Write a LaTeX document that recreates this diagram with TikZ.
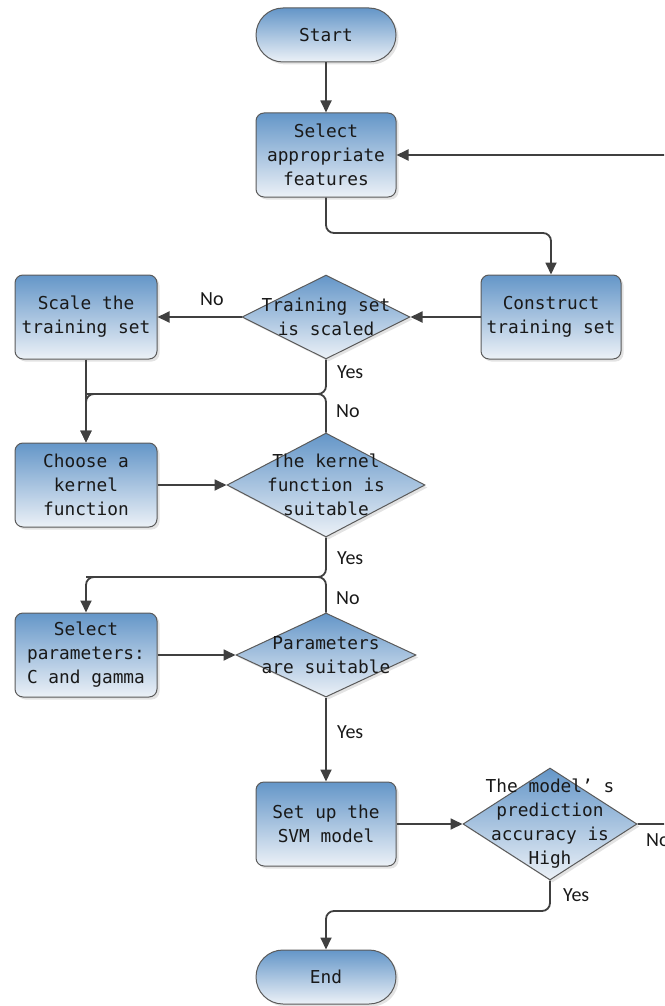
\documentclass[tikz,border=0pt]{standalone}
\usepackage{fontspec}
\setmonofont{DejaVu Sans Mono}
\newfontfamily\labfont{Carlito}
\usetikzlibrary{shapes.geometric,shadows,arrows.meta}
\definecolor{topb}{RGB}{100,150,200}
\definecolor{botb}{RGB}{236,241,247}
\definecolor{edgec}{RGB}{90,90,90}
\definecolor{connc}{RGB}{64,64,64}
\definecolor{txtc}{RGB}{25,25,25}
\begin{document}
\begin{tikzpicture}[x=1pt,y=-1pt,
  flowfill/.style={top color=topb,bottom color=botb,draw=edgec,line width=1pt,
    drop shadow={opacity=0.22,shadow xshift=2.5pt,shadow yshift=-2.5pt}},
  ttext/.style={font=\ttfamily\fontsize{17.8}{24}\selectfont,text=txtc,align=center},
  box/.style={flowfill,ttext,rectangle,rounded corners=8pt,minimum width=140pt,minimum height=84pt,inner sep=0pt},
  term/.style={flowfill,ttext,rectangle,rounded corners=27pt,minimum width=140pt,minimum height=54pt,inner sep=0pt},
  dec/.style={flowfill,diamond,inner sep=0pt},
  dtext/.style={ttext,inner sep=0pt},
  conn/.style={draw=connc,line width=1.8pt,rounded corners=8pt},
  arr/.style={conn,-{Triangle[length=12pt,width=11pt]}},
  lbl/.style={font=\labfont\fontsize{20}{24}\selectfont,text=txtc,anchor=west,inner sep=0pt}
]
\useasboundingbox (0,0) rectangle (664,1006);
\clip (0,0) rectangle (664,1006);

% nodes
\node[term] (start) at (326,35) {Start};
\node[box] (feat) at (326,155) {Select\\appropriate\\features};
\node[box] (cons) at (551,317) {Construct\\training set};
\node[dec,minimum width=168pt,minimum height=84pt,
  label={[dtext]center:{Training set\\is scaled}}] (d1) at (326,317) {};
\node[box,minimum width=142pt] (scale) at (86,317) {Scale the\\training set};
\node[box,minimum width=142pt] (kern) at (86,485) {Choose a\\kernel\\function};
\node[dec,minimum width=198pt,minimum height=104pt,
  label={[dtext]center:{The kernel\\function is\\suitable}}] (d2) at (326,485) {};
\node[box,minimum width=142pt] (par) at (86,655) {Select\\parameters:\\C and gamma};
\node[dec,minimum width=180pt,minimum height=84pt,
  label={[dtext]center:{Parameters\\are suitable}}] (d3) at (326,655) {};
\node[box] (svm) at (326,824) {Set up the\\SVM model};
\node[dec,minimum width=174pt,minimum height=112pt,
  label={[dtext]center:{The model’ s\\prediction\\accuracy is\\High}}] (d4) at (550,824) {};
\node[term] (end) at (326,977) {End};

% junction coordinates
\coordinate (j1) at (326,394);
\coordinate (j2) at (326,577);
\coordinate (j3) at (550,911);
\coordinate (fa) at (326,233);
\coordinate (lp1) at (700,824);
\coordinate (lp2) at (700,155);

% connectors
\draw[arr] (start) -- (feat);
\draw[arr] (feat.south) -- (fa) -| (cons.north);
\draw[arr] (cons.west) -- (d1.east);
\draw[arr] (d1.west) -- (scale.east);
\draw[arr] (scale.south) -- (kern.north);
\draw[arr] (d1.south) -- (j1) -| (kern.north);
\draw[conn] (d2.north) -- (j1) -- (j1 -| kern.north);
\draw[arr] (kern.east) -- (d2.west);
\draw[arr] (d2.south) -- (j2) -| (par.north);
\draw[conn] (d3.north) -- (j2) -- (j2 -| par.north);
\draw[arr] (par.east) -- (d3.west);
\draw[arr] (d3.south) -- (svm.north);
\draw[arr] (svm.east) -- (d4.west);
\draw[arr] (d4.south) -- (j3) -| (end.north);
\draw[arr] (d4.east) -- (lp1) -- (lp2) -- (feat.east);

% labels
\node[lbl] (l1) at (200,299) {No};
\node[lbl] (l2) at (337,372) {Yes};
\node[lbl] (l3) at (336,411) {No};
\node[lbl] (l4) at (337,558) {Yes};
\node[lbl] (l5) at (336,598) {No};
\node[lbl] (l6) at (337,732) {Yes};
\node[lbl] (l7) at (563,895) {Yes};
\node[lbl] (l8) at (646,840) {No};
\end{tikzpicture}
\end{document}
